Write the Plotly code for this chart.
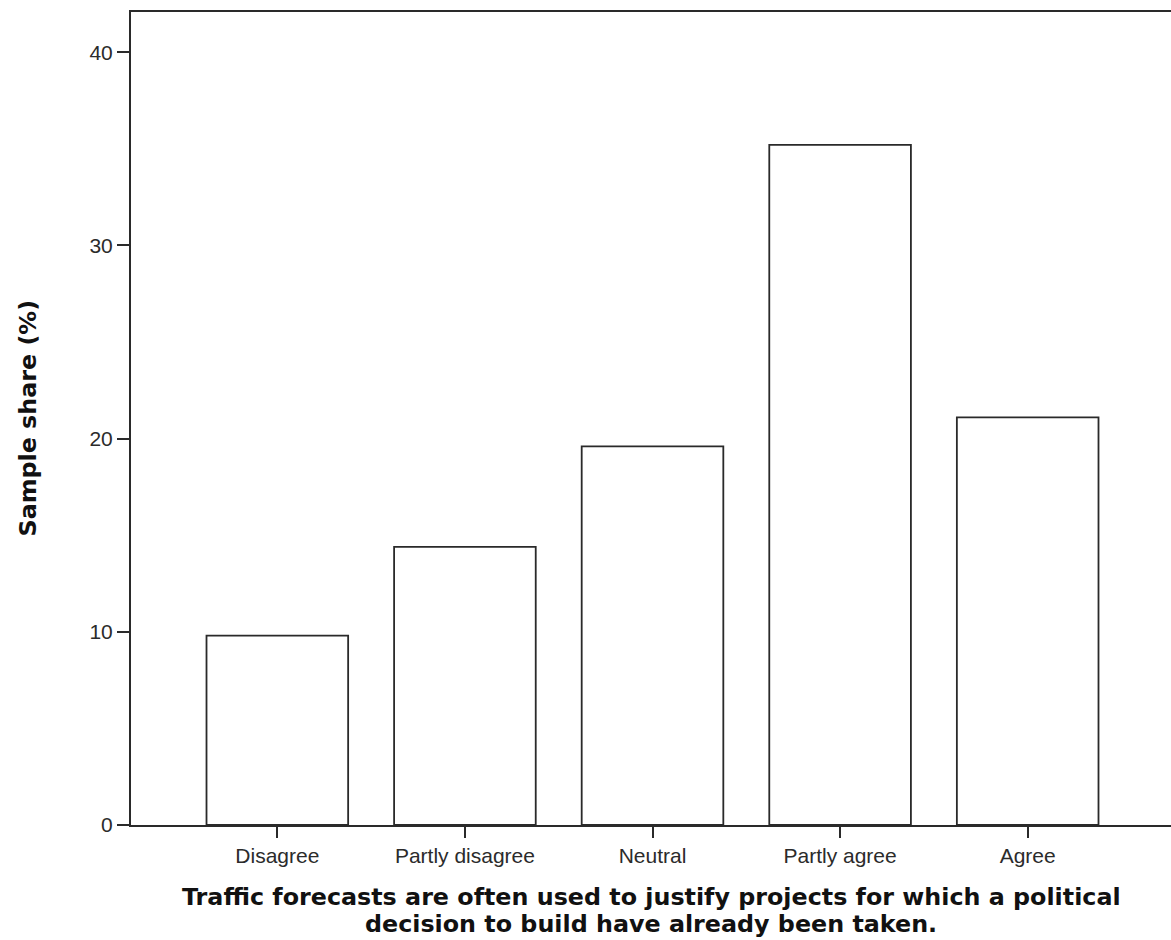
import plotly.graph_objects as go

categories = ["Disagree", "Partly disagree", "Neutral", "Partly agree", "Agree"]
shares = [9.8, 14.4, 19.6, 35.2, 21.1]
y_ticks = [0, 10, 20, 30, 40]
x_title_lines = [
    "Traffic forecasts are often used to justify projects for which a political",
    "decision to build have already been taken.",
]
y_title = "Sample share (%)"

LINE = "#2a2a2a"
TITLE_FONT = dict(family="DejaVu Sans", size=23.8, color="#111", weight="bold")

fig = go.Figure(go.Bar(
    x=list(range(len(categories))),
    y=shares,
    width=0.755,
    marker=dict(color="white", line=dict(color=LINE, width=1.8)),
))

fig.update_layout(
    width=1171, height=940,
    margin=dict(l=131, r=0, t=12, b=115),
    paper_bgcolor="white", plot_bgcolor="white",
    showlegend=False,
    font=dict(family="Liberation Sans, Arial, sans-serif", size=21, color="#2b2b2b"),
)
fig.update_xaxes(
    range=[-0.78, 4.764],
    tickmode="array", tickvals=list(range(len(categories))), ticktext=categories,
    ticks="outside", ticklen=11, tickwidth=2, tickcolor=LINE,
    showline=True, linecolor=LINE, linewidth=2, mirror=True,
    showgrid=False, zeroline=False,
    tickfont=dict(size=21),
)
fig.update_yaxes(
    range=[0, 42.08],
    tickmode="array", tickvals=y_ticks,
    ticks="outside", ticklen=12, tickwidth=2, tickcolor=LINE,
    showline=True, linecolor=LINE, linewidth=2,
    showgrid=False, zeroline=False,
    tickfont=dict(size=21),
)

# x-axis title, two lines with tight line spacing
for line, shift in zip(x_title_lines, [-71.5, -99]):
    fig.add_annotation(
        text=line, xref="paper", yref="paper", x=0.5, y=0,
        xanchor="center", yanchor="middle", yshift=shift,
        showarrow=False, font=TITLE_FONT,
    )

# y-axis title
fig.add_annotation(
    text=y_title, xref="paper", yref="paper", x=0, y=0.5,
    xanchor="center", yanchor="middle", xshift=-104, textangle=-90,
    showarrow=False, font=TITLE_FONT,
)

fig.write_html(
    "out.html",
    config={"displayModeBar": False},
    post_script="document.body.style.margin='0';document.body.style.overflow='hidden';",
)
